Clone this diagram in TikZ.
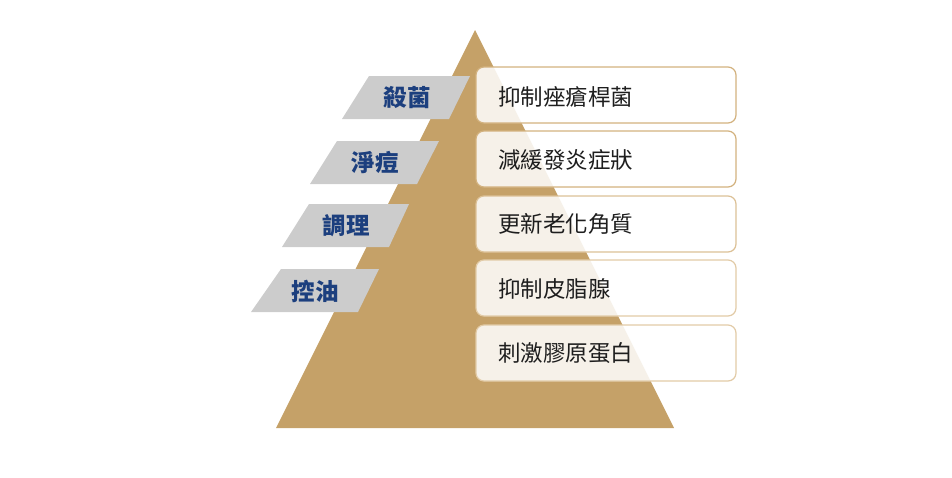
\documentclass[tikz,border=0pt]{standalone}
\usepackage{fontspec}
\newfontfamily\cjk{Noto Sans CJK TC}
\usetikzlibrary{positioning}

\definecolor{pyramid}{HTML}{C5A168}
\definecolor{taggray}{HTML}{CCCCCC}
\definecolor{tagblue}{HTML}{1C3F7E}
\definecolor{boxline}{HTML}{D3B27F}
\definecolor{boxlinelight}{HTML}{E2CBA7}
\definecolor{effectink}{HTML}{1E1E1E}

\begin{document}
\begin{tikzpicture}[x=1pt,y=-1pt,
		tag/.style={fill=taggray,draw=none},
		tagtext/.style={font=\cjk\bfseries\fontsize{23.5}{23.5}\selectfont,text=tagblue},
		effect/.style={fill=white,fill opacity=0.86,draw=boxline,line width=1.2pt,rounded corners=8pt},
		effecttext/.style={anchor=west,inner sep=0pt,font=\cjk\fontsize{22.5}{22.5}\selectfont,text=effectink}
	]
	\useasboundingbox (0,0) rectangle (952,477);
	
	% pyramid
	\fill[pyramid] (475,30) -- (674,428) -- (276,428) -- cycle;
	
	% slanted tags
	\fill[tag] (369,76) -- (470,76) -- (449,119) -- (342,119) -- cycle;
	\node[tagtext] (kill) at (407,98) {殺菌};
	
	\fill[tag] (337,141) -- (439,141) -- (417,184) -- (310,184) -- cycle;
	\node[tagtext] (clean) at (375,163) {淨痘};
	
	\fill[tag] (309,204) -- (409,204) -- (389,247) -- (282,247) -- cycle;
	\node[tagtext] (tune) at (346,226) {調理};
	
	\fill[tag] (281,269) -- (379,269) -- (358,312) -- (251,312) -- cycle;
	\node[tagtext] (oil) at (315,291) {控油};
	
	% effect boxes
	\draw[effect] (476,67) rectangle (736,123);
	\node[effecttext] (acne) at (498,97) {抑制痤瘡桿菌};
	
	\draw[effect] (476,131) rectangle (736,187);
	\node[effecttext] (calm) at (498,160) {減緩發炎症狀};
	
	\draw[effect,draw=boxlinelight!60!boxline] (476,196) rectangle (736,252);
	\node[effecttext] (renew) at (498,224) {更新老化角質};
	
	\draw[effect,draw=boxlinelight] (476,260) rectangle (736,316);
	\node[effecttext] (sebum) at (498,289) {抑制皮脂腺};
	
	\draw[effect,draw=boxlinelight] (476,325) rectangle (736,381);
	\node[effecttext] (collagen) at (498,353) {刺激膠原蛋白};
\end{tikzpicture}
\end{document}
